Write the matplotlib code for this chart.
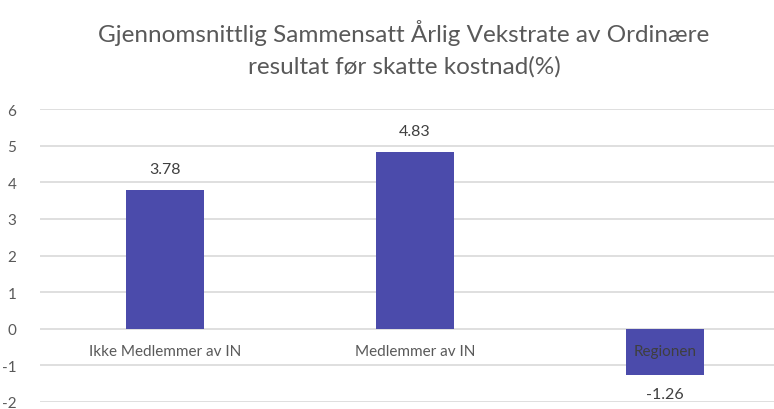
import matplotlib
matplotlib.use("Agg")
import matplotlib.pyplot as plt
from matplotlib import font_manager

categories = ["Ikke Medlemmer av IN", "Medlemmer av IN", "Regionen"]
values = [3.78, 4.83, -1.26]
value_labels = ["3.78", "4.83", "-1.26"]
yticks = [-2, -1, 0, 1, 2, 3, 4, 5, 6]
title = "Gjennomsnittlig Sammensatt Årlig Vekstrate av Ordinære\nresultat før skatte kostnad(%)"

names = {f.name for f in font_manager.fontManager.ttflist}
fam = ["Lato", "Open Sans", "DejaVu Sans"]
fam = [f for f in fam if f in names] or ["DejaVu Sans"]
plt.rcParams['font.family'] = fam

W, H = 774, 410
fig = plt.figure(figsize=(W / 100, H / 100), dpi=100)
fig.patch.set_facecolor("white")

left_px, right_px = 40, 774
top_px, bot_px = 110, 403
ax = fig.add_axes([left_px / W, 1 - bot_px / H, (right_px - left_px) / W, (bot_px - top_px) / H])

bar_color = "#4B4BAB"
text_color = "#595959"
x = list(range(len(categories)))
ax.bar(x, values, width=0.31, color=bar_color, zorder=2)

ax.set_ylim(-2, 6)
ax.set_xlim(-0.5, (right_px - left_px) / 250 - 0.5)
ax.set_yticks(yticks)
ax.set_yticklabels([str(t) for t in yticks])
ax.yaxis.grid(True, color="#D9D9D9", linewidth=1.2, zorder=0)
ax.set_axisbelow(True)
ax.tick_params(axis="y", length=0, pad=17, labelsize=11, labelcolor=text_color)
ax.set_xticks([])
for s in ax.spines.values():
    s.set_visible(False)

for xi, c, v in zip(x, categories, values):
    col = "#3F3F3F" if v < 0 else text_color
    ax.text(xi, -0.62, c, ha="center", va="center", fontsize=11, color=col, zorder=3)

for xi, v, lab in zip(x, values, value_labels):
    if v >= 0:
        ax.text(xi, v + 0.38, lab, ha="center", va="bottom", fontsize=11.5, color="#404040")
    else:
        ax.text(xi, v - 0.32, lab, ha="center", va="top", fontsize=11.5, color="#404040")

fig.text(0.522, 1 - 49 / H, title, ha="center", va="center", fontsize=17.5,
         color=text_color, linespacing=1.6)

fig.savefig("out.png", dpi=100, facecolor="white")
